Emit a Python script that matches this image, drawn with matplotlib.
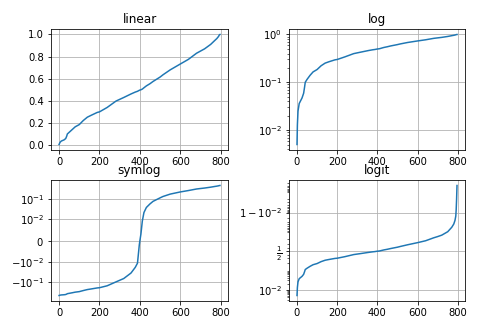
import numpy as np
import matplotlib
matplotlib.use("Agg")
import matplotlib.pyplot as plt
from matplotlib.ticker import NullFormatter, FixedLocator

# Sorted sample values in the open interval (0, 1), indexed by rank
rank = [0, 1, 2, 5, 11, 25, 33, 38, 41, 50, 65, 80, 100, 120, 140, 160,
        189, 200, 238, 282, 320, 356, 377, 388, 397, 400, 405, 412, 420,
        432, 450, 465, 500, 514, 550, 600, 640, 680, 700, 720, 750, 770,
        780, 786, 790, 792, 794, 796]
value = [0.005, 0.008, 0.013, 0.025, 0.036, 0.047, 0.059, 0.081, 0.100,
         0.115, 0.140, 0.165, 0.185, 0.222, 0.252, 0.270, 0.295, 0.300,
         0.340, 0.398, 0.430, 0.462, 0.479, 0.486, 0.495, 0.497, 0.500,
         0.506, 0.518, 0.535, 0.555, 0.575, 0.615, 0.635, 0.680, 0.733,
         0.775, 0.830, 0.850, 0.870, 0.910, 0.945, 0.962, 0.975, 0.985,
         0.993, 0.998, 0.9996]

# Centre used for the symmetric-log panel
center = 0.497

# Major tick positions on the logit axis
logit_ticks = [0.01, 0.5, 0.99]

titles = ["linear", "log", "symlog", "logit"]

x = np.array(rank)
y = np.array(value)

W, H = 484, 329
fig = plt.figure(figsize=(W / 72, H / 72), dpi=72)


def box(left, right, top, bottom):
    return [left / W, 1 - bottom / H, (right - left) / W, (bottom - top) / H]


# linear
ax = fig.add_axes(box(51, 228, 29, 150))
ax.plot(x, y)
ax.set_yscale("linear")
ax.set_title(titles[0])
ax.grid(True)

# log
ax = fig.add_axes(box(289, 465, 29, 150))
ax.plot(x, y)
ax.set_yscale("log")
ax.set_title(titles[1])
ax.grid(True)

# symmetric log
ax = fig.add_axes(box(51, 228, 180, 301))
ax.plot(x, y - center)
ax.set_yscale("symlog", linthresh=0.01)
ax.set_title(titles[2])
ax.grid(True)

# logit
ax = fig.add_axes(box(289, 465, 180, 301))
ax.plot(x, y)
ax.set_yscale("logit")
ax.yaxis.set_major_locator(FixedLocator(logit_ticks))
ax.yaxis.set_minor_formatter(NullFormatter())
ax.set_title(titles[3])
ax.grid(True)

fig.savefig("out.png", dpi=72)
